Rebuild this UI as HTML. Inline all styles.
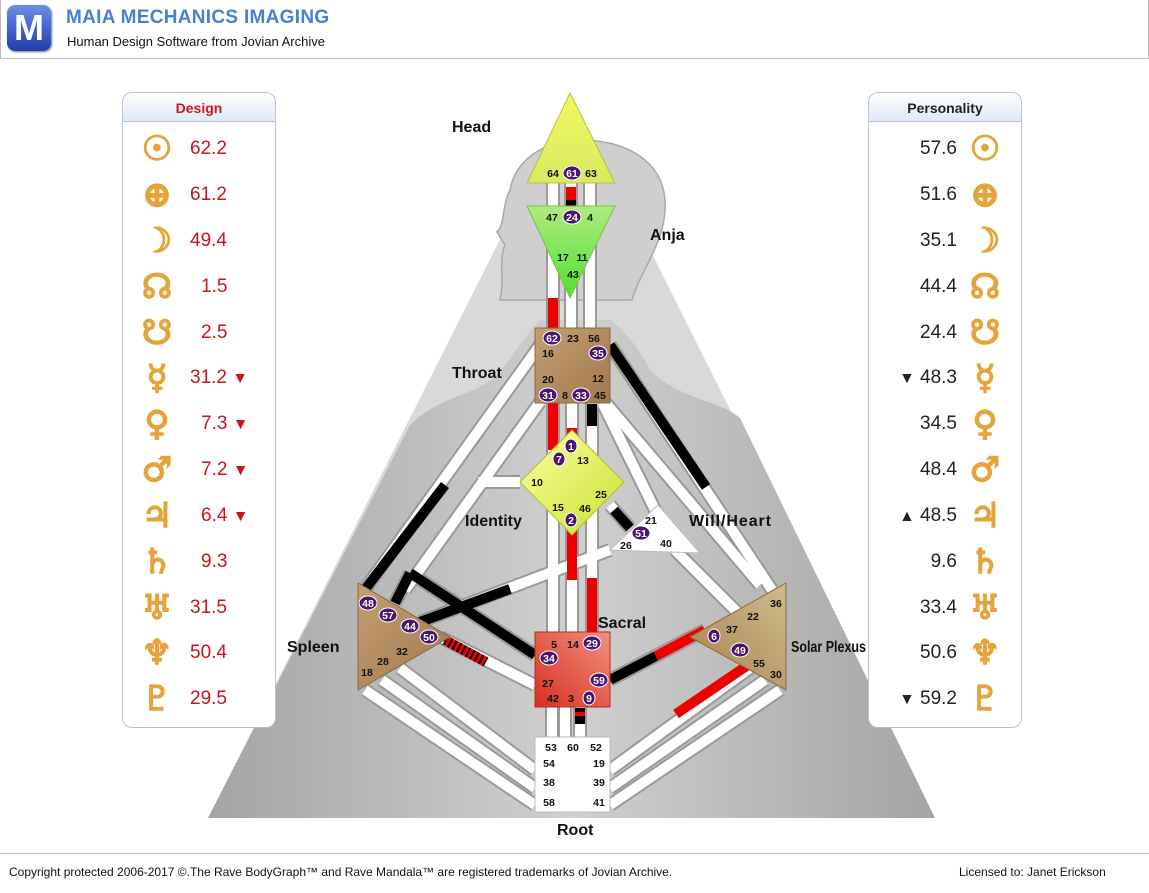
<!DOCTYPE html>
<html><head><meta charset="utf-8">
<style>
body{margin:0;width:1149px;height:893px;background:#fff;position:relative;overflow:hidden;font-family:"Liberation Sans",sans-serif}
.hdr{position:absolute;left:0;top:0;width:1147px;height:58px;border:1px solid #bbb;border-top:0}
.logo{position:absolute;left:6px;top:5px;width:44px;height:46px;border-radius:8px;background:linear-gradient(#6a8ee8,#1d3fa8);color:#fff;font:bold 36px "Liberation Sans",sans-serif;text-align:center;line-height:46px;box-shadow:1px 1px 2px #777}
.t1{position:absolute;left:65px;top:7px;font:bold 19px "Liberation Sans",sans-serif;color:#4a7fd0;letter-spacing:0.3px}
.t2{position:absolute;left:66px;top:34px;font-size:13px;color:#111}
.foot{position:absolute;left:0;top:853px;width:1149px;border-top:1px solid #bbb}
.ft{position:absolute;top:865px;font-size:12px;color:#111}
.panel{position:absolute;top:92px;width:152px;height:634px;border:1px solid #b8c4d0;border-radius:10px;background:#fff}
.ph{height:28px;border-bottom:1px solid #b8c4d0;border-radius:10px 10px 0 0;background:linear-gradient(#fff,#dfe8f8);text-align:center;font:bold 14px "Liberation Sans",sans-serif;line-height:30px}
.row{position:absolute;height:40px;font-size:19px;line-height:40px}
.sym{position:absolute;color:#e5a43a;font:bold 34px "DejaVu Sans",sans-serif;line-height:40px;text-align:center;width:36px;-webkit-text-stroke:1.5px #e5a43a}
</style></head><body>
<div class="hdr"><div class="logo">M</div><div class="t1">MAIA MECHANICS IMAGING</div><div class="t2">Human Design Software from Jovian Archive</div></div>

<svg width="1149" height="893" style="position:absolute;left:0;top:0">
<defs>
<linearGradient id="gbg" x1="0" x2="1"><stop offset="0" stop-color="#a4a4a4"/><stop offset=".5" stop-color="#d0d0d0"/><stop offset="1" stop-color="#a4a4a4"/></linearGradient>
<linearGradient id="yel" x1="0" y1="0" x2="0" y2="1"><stop offset="0" stop-color="#f2f860"/><stop offset="1" stop-color="#d8ea60"/></linearGradient>
<linearGradient id="grn" x1="0" y1="0" x2="0" y2="1"><stop offset="0" stop-color="#b0ea80"/><stop offset="1" stop-color="#50e030"/></linearGradient>
<linearGradient id="tan" x1="0" y1="0" x2="1" y2="1"><stop offset="0" stop-color="#c4a070"/><stop offset="1" stop-color="#a07850"/></linearGradient>
<linearGradient id="tanr" x1="1" y1="0" x2="0" y2="1"><stop offset="0" stop-color="#d0bc8c"/><stop offset="1" stop-color="#a88050"/></linearGradient>
<linearGradient id="red" x1="1" y1="0" x2="0" y2="1"><stop offset="0" stop-color="#f09080"/><stop offset="1" stop-color="#d83020"/></linearGradient>
<linearGradient id="gy" x1="0" y1="0" x2="1" y2="1"><stop offset="0" stop-color="#ffffa0"/><stop offset="1" stop-color="#c8e030"/></linearGradient>
</defs>
<polygon points="520,200 625,200 935,818 208,818" fill="#d9d9d9"/>
<path d="M208,818 L410,425 C440,395 480,395 500,372 C520,345 530,330 540,320 L610,320 C625,330 640,350 650,370 C680,400 720,400 740,418 L935,818 Z" fill="url(#gbg)"/>
<path d="M500,300 C505,280 498,262 505,245 L497,232 C505,225 502,205 510,190 C515,160 545,140 580,140 C625,140 662,160 665,200 C668,240 640,270 632,300 Z" fill="#cfcfcf" stroke="#a8a8a8" stroke-width="1.5"/>
<g stroke-linecap="butt" fill="none">
<g stroke="#999" stroke-width="14">
<path d="M553,180V330M571,180V330M590,180V330"/>
<path d="M553,400V640M572,400V640M592,400V640"/>
<path d="M552,705V740M565,705V740M580,705V740"/>
<path d="M540,345L363,592M540,402L405,590M520,482H478M410,573L395,603M410,573L535,655M420,622L610,550M440,637L535,685"/>
<path d="M610,345L772,590M605,402L760,585M600,398L655,510M610,505L630,528M675,550L740,615M610,680L705,630"/>
<path d="M365,690L535,805M382,680L535,788M400,668L535,770M780,690L610,805M765,680L610,788M750,668L610,770"/>
</g>
<g stroke="#fff" stroke-width="10">
<path d="M553,180V330M571,180V330M590,180V330"/>
<path d="M553,400V640M572,400V640M592,400V640"/>
<path d="M552,705V740M565,705V740M580,705V740"/>
<path d="M540,345L363,592M540,402L405,590M520,482H478M410,573L395,603M410,573L535,655M420,622L610,550M440,637L535,685"/>
<path d="M610,345L772,590M605,402L760,585M600,398L655,510M610,505L630,528M675,550L740,615M610,680L705,630"/>
<path d="M365,690L535,805M382,680L535,788M400,668L535,770M780,690L610,805M765,680L610,788M750,668L610,770"/>
</g>
<g stroke-width="10">
<path d="M571,187V200" stroke="#e00"/><path d="M571,200V210" stroke="#000"/>
<path d="M553,298V330" stroke="#e00"/>
<path d="M553,400V450" stroke="#e00"/>
<path d="M572,428V440" stroke="#e00"/>
<path d="M592,404V426" stroke="#000"/>
<path d="M572,530V580" stroke="#e00"/>
<path d="M592,578V636" stroke="#e00"/>
<path d="M580,708V724" stroke="#000"/><path d="M580,712V716" stroke="#e00"/>
<path d="M445,485L363,592" stroke="#000"/>
<path d="M410,573L395,603M410,573L535,655" stroke="#000"/>
<path d="M420,622L510,589" stroke="#000"/>
<path d="M445,640L486,662" stroke="#e00"/>
<path d="M445,640L486,662" stroke="#000" stroke-dasharray="2 3"/>
<path d="M610,345L706,487" stroke="#000"/>
<path d="M614,510L630,528" stroke="#000"/>
<path d="M610,680L656,656" stroke="#000"/><path d="M656,656L705,630" stroke="#e00"/>
<path d="M748,665L676,714" stroke="#e00"/>
</g>
</g>
<polygon points="570,93 615,183 527,183" fill="url(#yel)" stroke="#b8c040"/>
<polygon points="527,206 615,206 570,298" fill="url(#grn)" stroke="#80c040"/>
<rect x="535" y="328" width="75" height="75" fill="url(#tan)" stroke="#8a6a40"/>
<polygon points="572,430 624,482 572,535 520,482" fill="url(#gy)" stroke="#b0c030"/>
<polygon points="610,550 658,505 700,553" fill="#fff" stroke="#bbb"/>
<polygon points="358,583 450,637 358,690" fill="url(#tan)" stroke="#8a6a40"/>
<polygon points="786,583 690,637 786,690" fill="url(#tanr)" stroke="#8a6a40"/>
<rect x="535" y="632" width="75" height="75" fill="url(#red)" stroke="#b03020"/>
<rect x="535" y="737" width="75" height="75" fill="#fff" stroke="#bbb"/>
<g fill="#4a1470" stroke="#fff" stroke-width="1">
<ellipse cx="572" cy="173" rx="9" ry="7"/><ellipse cx="572" cy="217" rx="9" ry="7"/>
<ellipse cx="552" cy="338" rx="9" ry="7"/><ellipse cx="598" cy="353" rx="9" ry="7"/><ellipse cx="548" cy="395" rx="9" ry="7"/><ellipse cx="581" cy="395" rx="9" ry="7"/>
<ellipse cx="571" cy="446" rx="6" ry="7"/><ellipse cx="559" cy="459" rx="6" ry="7"/><ellipse cx="571" cy="520" rx="6" ry="7"/>
<ellipse cx="641" cy="533" rx="9" ry="7"/>
<ellipse cx="368" cy="603" rx="9" ry="7"/><ellipse cx="388" cy="615" rx="9" ry="7"/><ellipse cx="410" cy="626" rx="9" ry="7"/><ellipse cx="429" cy="637" rx="9" ry="7"/>
<ellipse cx="592" cy="643" rx="9" ry="7"/><ellipse cx="549" cy="658" rx="9" ry="7"/><ellipse cx="599" cy="680" rx="9" ry="7"/><ellipse cx="589" cy="698" rx="6" ry="7"/>
<ellipse cx="714" cy="636" rx="6" ry="7"/><ellipse cx="740" cy="650" rx="9" ry="7"/>
</g>
<g font-family="Liberation Sans,sans-serif" font-weight="bold" font-size="10.5" text-anchor="middle" fill="#111">
<text x="553" y="177">64</text><text x="591" y="177">63</text>
<text x="552" y="221">47</text><text x="590" y="221">4</text><text x="563" y="261">17</text><text x="582" y="261">11</text><text x="573" y="278">43</text>
<text x="573" y="342">23</text><text x="594" y="342">56</text><text x="548" y="357">16</text><text x="548" y="383">20</text><text x="598" y="382">12</text><text x="565" y="399">8</text><text x="600" y="399">45</text>
<text x="583" y="464">13</text><text x="537" y="486">10</text><text x="601" y="498">25</text><text x="558" y="511">15</text><text x="585" y="512">46</text>
<text x="651" y="524">21</text><text x="626" y="549">26</text><text x="666" y="547">40</text>
<text x="402" y="655">32</text><text x="383" y="665">28</text><text x="367" y="676">18</text>
<text x="554" y="648">5</text><text x="573" y="648">14</text><text x="548" y="687">27</text><text x="553" y="702">42</text><text x="571" y="702">3</text>
<text x="776" y="607">36</text><text x="753" y="620">22</text><text x="732" y="633">37</text><text x="759" y="667">55</text><text x="776" y="678">30</text>
<text x="551" y="751">53</text><text x="573" y="751">60</text><text x="596" y="751">52</text><text x="549" y="767">54</text><text x="599" y="767">19</text><text x="549" y="786">38</text><text x="599" y="786">39</text><text x="549" y="806">58</text><text x="599" y="806">41</text>
</g>
<g font-family="Liberation Sans,sans-serif" font-weight="bold" font-size="10.5" text-anchor="middle" fill="#fff">
<text x="572" y="177">61</text><text x="572" y="221">24</text><text x="552" y="342">62</text><text x="598" y="357">35</text><text x="548" y="399">31</text><text x="581" y="399">33</text>
<text x="571" y="450">1</text><text x="559" y="463">7</text><text x="571" y="524">2</text><text x="641" y="537">51</text>
<text x="368" y="607">48</text><text x="388" y="619">57</text><text x="410" y="630">44</text><text x="429" y="641">50</text>
<text x="592" y="647">29</text><text x="549" y="662">34</text><text x="599" y="684">59</text><text x="589" y="702">9</text><text x="714" y="640">6</text><text x="740" y="654">49</text>
</g>
<g font-family="Liberation Sans,sans-serif" font-weight="bold" font-size="16" fill="#111">
<text x="452" y="132">Head</text><text x="650" y="240">Anja</text><text x="452" y="378">Throat</text><text x="465" y="526">Identity</text><text x="689" y="526" textLength="82">Will/Heart</text><text x="598" y="628">Sacral</text><text x="287" y="652">Spleen</text><text x="791" y="652" textLength="75" lengthAdjust="spacingAndGlyphs">Solar Plexus</text><text x="557" y="835">Root</text>
</g>
</svg>

<div class="panel" style="left:122px"><div class="ph" style="color:#d01818">Design</div>
<div style="color:#c8141c">
<div class="row" style="top:36px;left:0"><span class="sym" style="left:16px">☉</span><span style="position:absolute;left:67px">62.2</span></div>
<div class="row" style="top:82px;left:0"><span class="sym" style="left:16px">⊕</span><span style="position:absolute;left:67px">61.2</span></div>
<div class="row" style="top:128px;left:0"><span class="sym" style="left:16px">☽</span><span style="position:absolute;left:67px">49.4</span></div>
<div class="row" style="top:174px;left:0"><span class="sym" style="left:16px">☊</span><span style="position:absolute;left:78px">1.5</span></div>
<div class="row" style="top:220px;left:0"><span class="sym" style="left:16px">☋</span><span style="position:absolute;left:78px">2.5</span></div>
<div class="row" style="top:265px;left:0"><span class="sym" style="left:16px">☿</span><span style="position:absolute;left:67px;width:90px">31.2 <small>▼</small></span></div>
<div class="row" style="top:311px;left:0"><span class="sym" style="left:16px">♀</span><span style="position:absolute;left:78px;width:90px">7.3 <small>▼</small></span></div>
<div class="row" style="top:357px;left:0"><span class="sym" style="left:16px">♂</span><span style="position:absolute;left:78px;width:90px">7.2 <small>▼</small></span></div>
<div class="row" style="top:403px;left:0"><span class="sym" style="left:16px">♃</span><span style="position:absolute;left:78px;width:90px">6.4 <small>▼</small></span></div>
<div class="row" style="top:449px;left:0"><span class="sym" style="left:16px">♄</span><span style="position:absolute;left:78px">9.3</span></div>
<div class="row" style="top:495px;left:0"><span class="sym" style="left:16px">♅</span><span style="position:absolute;left:67px">31.5</span></div>
<div class="row" style="top:540px;left:0"><span class="sym" style="left:16px">♆</span><span style="position:absolute;left:67px">50.4</span></div>
<div class="row" style="top:586px;left:0"><span class="sym" style="left:16px">♇</span><span style="position:absolute;left:67px">29.5</span></div>
</div></div>

<div class="panel" style="left:868px"><div class="ph" style="color:#222">Personality</div>
<div style="color:#222">
<div class="row" style="top:36px;left:0;width:88px;text-align:right">57.6</div><span class="sym" style="position:absolute;top:36px;left:98px">☉</span>
<div class="row" style="top:82px;left:0;width:88px;text-align:right">51.6</div><span class="sym" style="position:absolute;top:82px;left:98px">⊕</span>
<div class="row" style="top:128px;left:0;width:88px;text-align:right">35.1</div><span class="sym" style="position:absolute;top:128px;left:98px">☽</span>
<div class="row" style="top:174px;left:0;width:88px;text-align:right">44.4</div><span class="sym" style="position:absolute;top:174px;left:98px">☊</span>
<div class="row" style="top:220px;left:0;width:88px;text-align:right">24.4</div><span class="sym" style="position:absolute;top:220px;left:98px">☋</span>
<div class="row" style="top:265px;left:0;width:88px;text-align:right"><small>▼</small> 48.3</div><span class="sym" style="position:absolute;top:265px;left:98px">☿</span>
<div class="row" style="top:311px;left:0;width:88px;text-align:right">34.5</div><span class="sym" style="position:absolute;top:311px;left:98px">♀</span>
<div class="row" style="top:357px;left:0;width:88px;text-align:right">48.4</div><span class="sym" style="position:absolute;top:357px;left:98px">♂</span>
<div class="row" style="top:403px;left:0;width:88px;text-align:right"><small>▲</small> 48.5</div><span class="sym" style="position:absolute;top:403px;left:98px">♃</span>
<div class="row" style="top:449px;left:0;width:88px;text-align:right">9.6</div><span class="sym" style="position:absolute;top:449px;left:98px">♄</span>
<div class="row" style="top:495px;left:0;width:88px;text-align:right">33.4</div><span class="sym" style="position:absolute;top:495px;left:98px">♅</span>
<div class="row" style="top:540px;left:0;width:88px;text-align:right">50.6</div><span class="sym" style="position:absolute;top:540px;left:98px">♆</span>
<div class="row" style="top:586px;left:0;width:88px;text-align:right"><small>▼</small> 59.2</div><span class="sym" style="position:absolute;top:586px;left:98px">♇</span>
</div></div>

<div class="foot"></div>
<div class="ft" style="left:9px">Copyright protected 2006-2017 ©.The Rave BodyGraph™ and Rave Mandala™ are registered trademarks of Jovian Archive.</div>
<div class="ft" style="left:959px">Licensed to: Janet Erickson</div>
</body></html>
